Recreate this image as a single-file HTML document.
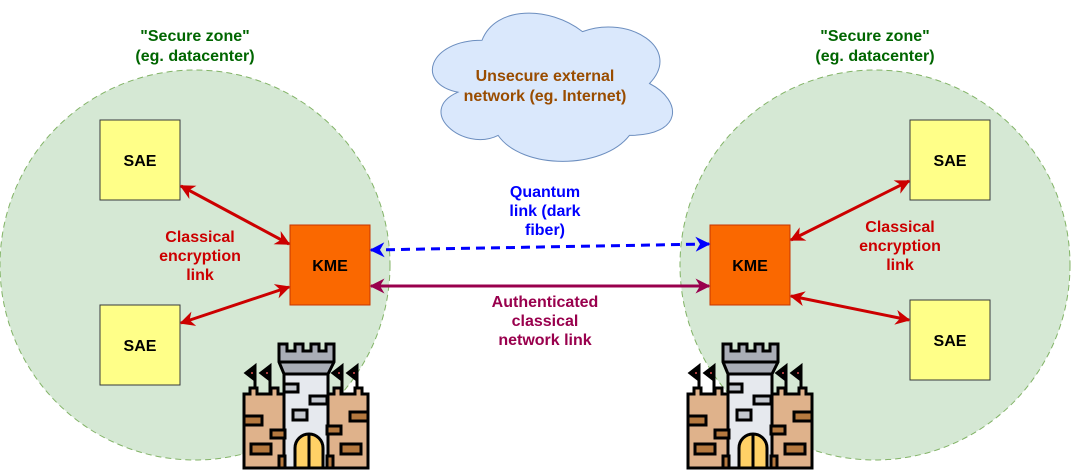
<!DOCTYPE html>
<html><head><meta charset="utf-8"><style>
body{margin:0;background:#fff;}
svg{display:block;}
text{font-family:"Liberation Sans",Arial,sans-serif;font-weight:bold;font-size:16px;text-anchor:middle;}
</style></head><body>
<svg width="1071" height="473" viewBox="0 0 1071 473" xmlns="http://www.w3.org/2000/svg">
<defs>
<marker id="ar" viewBox="0 0 10 10" refX="9" refY="5" markerWidth="5" markerHeight="5" orient="auto-start-reverse"><path d="M0,0 L10,5 L0,10 L3,5 Z" fill="#CC0000"/></marker>
<marker id="ab" viewBox="0 0 10 10" refX="9" refY="5" markerWidth="5" markerHeight="5" orient="auto-start-reverse"><path d="M0,0 L10,5 L0,10 L3,5 Z" fill="#0000FF"/></marker>
<marker id="ap" viewBox="0 0 10 10" refX="9" refY="5" markerWidth="5" markerHeight="5" orient="auto-start-reverse"><path d="M0,0 L10,5 L0,10 L3,5 Z" fill="#99004D"/></marker>
<g id="castle" stroke="#000" stroke-width="3">
  <line x1="12" y1="24" x2="12" y2="52"/><line x1="27" y1="24" x2="27" y2="52"/>
  <line x1="99" y1="24" x2="99" y2="52"/><line x1="114" y1="24" x2="114" y2="52"/>
  <path d="M12,24 L3,31 L12,38 Z M27,24 L18,31 L27,38 Z M99,24 L90,31 L99,38 Z M114,24 L105,31 L114,38 Z" fill="#000"/>
  <circle cx="9" cy="31" r="1" fill="#e05050" stroke="none"/><circle cx="24" cy="31" r="1" fill="#e05050" stroke="none"/>
  <circle cx="96" cy="31" r="1" fill="#e05050" stroke="none"/><circle cx="111" cy="31" r="1" fill="#e05050" stroke="none"/>
  <path d="M1,126 L1,52 L7,52 L7,46 L14,46 L14,52 L28,52 L28,46 L35,46 L35,52 L42,52 L42,126 Z" fill="#dfb28b"/>
  <path d="M84,126 L84,52 L91,52 L91,46 L98,46 L98,52 L112,52 L112,46 L119,46 L119,52 L125,52 L125,126 Z" fill="#dfb28b"/>
  <rect x="41" y="22" width="44" height="104" fill="#e6e9ee"/>
  <path d="M36,2 L44,2 L44,9 L52,9 L52,2 L60,2 L60,9 L68,9 L68,2 L76,2 L76,9 L83,9 L83,2 L91,2 L91,20 L85,32 L41,32 L36,20 Z" fill="#a9adb6"/>
  <line x1="36" y1="20" x2="91" y2="20"/>
  <path d="M52,126 L52,106 A14,14 0 0 1 80,106 L80,126 Z" fill="#ffd166"/>
  <line x1="66" y1="92" x2="66" y2="126"/>
  <rect x="50" y="68" width="14" height="10" fill="#c5c9d0"/>
  <rect x="41" y="42" width="14" height="8" fill="#c5c9d0"/>
  <rect x="67" y="54" width="17" height="8" fill="#c5c9d0"/>
  <rect x="1" y="74" width="18" height="9" fill="#b5793f"/>
  <rect x="28" y="88" width="14" height="8" fill="#b5793f"/>
  <rect x="8" y="102" width="20" height="10" fill="#b5793f"/>
  <rect x="84" y="84" width="14" height="8" fill="#b5793f"/>
  <rect x="107" y="70" width="18" height="9" fill="#b5793f"/>
  <rect x="98" y="102" width="20" height="10" fill="#b5793f"/>
  <rect x="36" y="114" width="6" height="12" fill="#b5793f"/>
  <rect x="84" y="114" width="6" height="12" fill="#b5793f"/>
</g>
</defs>
<circle cx="195" cy="265" r="195" fill="#d5e8d4" stroke="#82b366" stroke-dasharray="6,4"/>
<circle cx="875" cy="265" r="195" fill="#d5e8d4" stroke="#82b366" stroke-dasharray="6,4"/>
<path transform="translate(415,-3) scale(268,173)" vector-effect="non-scaling-stroke" fill="#dae8fc" stroke="#6c8ebf" stroke-width="1" d="M0.25,0.25 C0.05,0.25 0,0.5 0.16,0.55 C0,0.66 0.18,0.9 0.31,0.8 C0.4,1 0.7,1 0.8,0.8 C1,0.8 1,0.6 0.875,0.5 C1,0.3 0.8,0.1 0.625,0.2 C0.5,0.05 0.3,0.05 0.25,0.25 Z"/>
<text x="545" y="81" fill="#994C00">Unsecure external</text>
<text x="545" y="101" fill="#994C00">network (eg. Internet)</text>
<text x="195" y="41" fill="#006600">"Secure zone"</text>
<text x="195" y="61" fill="#006600">(eg. datacenter)</text>
<text x="875" y="41" fill="#006600">"Secure zone"</text>
<text x="875" y="61" fill="#006600">(eg. datacenter)</text>
<rect x="100" y="120" width="80" height="80" fill="#ffff88" stroke="#36393d"/>
<text x="140" y="166">SAE</text>
<rect x="100" y="305" width="80" height="80" fill="#ffff88" stroke="#36393d"/>
<text x="140" y="351">SAE</text>
<rect x="910" y="120" width="80" height="80" fill="#ffff88" stroke="#36393d"/>
<text x="950" y="166">SAE</text>
<rect x="910" y="300" width="80" height="80" fill="#ffff88" stroke="#36393d"/>
<text x="950" y="346">SAE</text>
<rect x="290" y="225" width="80" height="80" fill="#fa6800" stroke="#C73500"/>
<text x="330" y="271">KME</text>
<rect x="710" y="225" width="80" height="80" fill="#fa6800" stroke="#C73500"/>
<text x="750" y="271">KME</text>
<g stroke-width="3" fill="none">
<line x1="181" y1="186" x2="289" y2="244" stroke="#CC0000" marker-start="url(#ar)" marker-end="url(#ar)"/>
<line x1="181" y1="323" x2="289" y2="287" stroke="#CC0000" marker-start="url(#ar)" marker-end="url(#ar)"/>
<line x1="791" y1="240" x2="909" y2="181" stroke="#CC0000" marker-start="url(#ar)" marker-end="url(#ar)"/>
<line x1="791" y1="296" x2="909" y2="320" stroke="#CC0000" marker-start="url(#ar)" marker-end="url(#ar)"/>
<line x1="371" y1="250" x2="709" y2="244" stroke="#0000FF" stroke-dasharray="9,6" marker-start="url(#ab)" marker-end="url(#ab)"/>
<line x1="371" y1="286" x2="709" y2="286" stroke="#99004D" marker-start="url(#ap)" marker-end="url(#ap)"/>
</g>
<text x="200" y="242" fill="#CC0000">Classical</text>
<text x="200" y="261" fill="#CC0000">encryption</text>
<text x="200" y="280" fill="#CC0000">link</text>
<text x="900" y="232" fill="#CC0000">Classical</text>
<text x="900" y="251" fill="#CC0000">encryption</text>
<text x="900" y="270" fill="#CC0000">link</text>
<text x="545" y="197" fill="#0000FF">Quantum</text>
<text x="545" y="216" fill="#0000FF">link (dark</text>
<text x="545" y="235" fill="#0000FF">fiber)</text>
<text x="545" y="307" fill="#99004D">Authenticated</text>
<text x="545" y="326" fill="#99004D">classical</text>
<text x="545" y="345" fill="#99004D">network link</text>
<use href="#castle" transform="translate(243,342)"/>
<use href="#castle" transform="translate(687,342)"/>
</svg>
</body></html>
